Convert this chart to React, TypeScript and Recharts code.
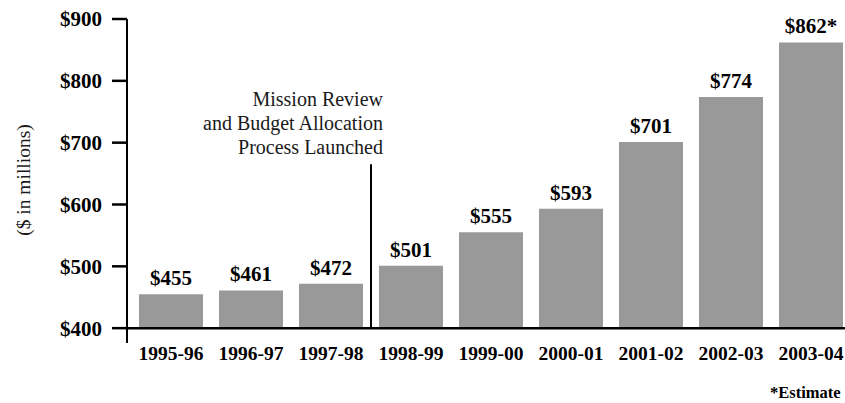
import { Bar, BarChart, LabelList, ReferenceLine, XAxis, YAxis } from "recharts";

const YEARS = [
  "1995-96",
  "1996-97",
  "1997-98",
  "1998-99",
  "1999-00",
  "2000-01",
  "2001-02",
  "2002-03",
  "2003-04",
];
const BUDGET = [455, 461, 472, 501, 555, 593, 701, 774, 862];
const VALUE_LABELS = ["$455", "$461", "$472", "$501", "$555", "$593", "$701", "$774", "$862*"];
const Y_TICKS = [400, 500, 600, 700, 800, 900];
const BASE = 400;

// marker sits on the left edge of the 1998-99 band
const LAUNCH_YEAR = "1998-99";
const LAUNCH_TOP = 665;
const LAUNCH_TEXT = ["Mission Review", "and Budget Allocation", "Process Launched"];

const SERIF = '"Liberation Serif", "DejaVu Serif", serif';
const BAR_GRAY = "#999999";

const rows = YEARS.map((year, i) => ({
  year,
  range: [BASE, BUDGET[i]],
  label: VALUE_LABELS[i],
}));

function LaunchNote(props: any) {
  const { x, y } = props.viewBox;
  return (
    <text
      x={x + 12}
      y={y}
      textAnchor="end"
      fill="#1a1a1a"
      fontFamily={SERIF}
      fontSize={20}
    >
      {LAUNCH_TEXT.map((line, i) => (
        <tspan key={line} x={x + 12} y={y - 58 + i * 24}>
          {line}
        </tspan>
      ))}
    </text>
  );
}

function UnitsLabel(props: any) {
  const { x, y, height } = props.viewBox;
  const cx = x + 23;
  const cy = y + height / 2 - 1;
  return (
    <text
      x={cx}
      y={cy}
      transform={`rotate(-90, ${cx}, ${cy})`}
      textAnchor="middle"
      dominantBaseline="central"
      fill="#1a1a1a"
      fontFamily={SERIF}
      fontSize={19.5}
    >
      ($ in millions)
    </text>
  );
}

export default function App() {
  return (
    <div
      style={{
        position: "absolute",
        left: 0,
        top: 0,
        width: 845,
        height: 403,
        overflow: "hidden",
        background: "#fff",
      }}
    >
      <BarChart
        width={860}
        height={403}
        data={rows}
        margin={{ top: 19, right: 9, bottom: 30, left: 0 }}
      >
        <XAxis
          dataKey="year"
          axisLine={false}
          tickLine={false}
          tickSize={0}
          tickMargin={3}
          height={30}
          padding={{ left: 4, right: 0 }}
          interval={0}
          tick={{ fill: "#000", fontSize: 19.5, fontWeight: 700, fontFamily: SERIF }}
        />
        <YAxis
          width={127}
          domain={[376, 900]}
          ticks={Y_TICKS}
          interval={0}
          tickFormatter={(v: number) => `$${v}`}
          tickSize={15}
          tickMargin={10}
          axisLine={{ stroke: "#000", strokeWidth: 2 }}
          tickLine={{ stroke: "#000", strokeWidth: 2.5 }}
          tick={{ fill: "#000", fontSize: 21, fontWeight: 700, fontFamily: SERIF }}
          label={{ content: UnitsLabel }}
        />
        <Bar dataKey="range" fill={BAR_GRAY} barSize={64} isAnimationActive={false}>
          <LabelList
            dataKey="label"
            position="top"
            offset={9}
            fill="#000"
            fontSize={21}
            fontWeight={700}
            fontFamily={SERIF}
          />
        </Bar>
        <ReferenceLine y={BASE} stroke="#000" strokeWidth={2.5} />
        <ReferenceLine
          position="start"
          segment={[
            { x: LAUNCH_YEAR, y: BASE },
            { x: LAUNCH_YEAR, y: LAUNCH_TOP },
          ]}
          stroke="#000"
          strokeWidth={2}
          label={{ content: LaunchNote }}
        />
      </BarChart>
      <div
        style={{
          position: "absolute",
          left: 770,
          top: 382,
          fontFamily: SERIF,
          fontWeight: 700,
          fontSize: 16.5,
          lineHeight: "22px",
          color: "#000",
          whiteSpace: "nowrap",
        }}
      >
        *Estimate
      </div>
    </div>
  );
}
